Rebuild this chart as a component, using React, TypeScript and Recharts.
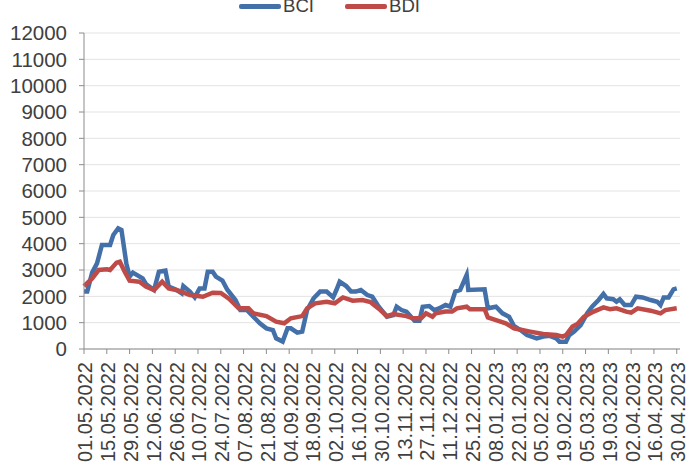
import { CartesianGrid, Legend, Line, LineChart, XAxis, YAxis } from "recharts";

// days counted from 01.05.2022
const bciDays = [
  0, 2, 5, 8, 11, 16, 18, 21, 23, 26, 28, 30, 36, 38, 43, 46, 50, 52, 57, 60,
  61, 65, 68, 71, 74, 76, 79, 81, 85, 88, 93, 96, 100, 104, 108, 112, 116, 118,
  122, 125, 127, 131, 134, 137, 141, 145, 149, 153, 155, 157, 161, 164, 167,
  170, 174, 177, 181, 186, 190, 192, 195, 198, 203, 206, 208, 212, 215, 218,
  222, 225, 228, 231, 235, 236, 246, 248, 253, 257, 261, 264, 268, 272, 278,
  282, 286, 290, 292, 296, 298, 301, 305, 309, 312, 316, 319, 321, 325, 327,
  329, 332, 336, 339, 343, 348, 352, 354, 356, 359, 362, 364,
];
const bciValues = [
  2180, 2180, 2900, 3250, 3950, 3950, 4330, 4580, 4520, 3250, 2750, 2900, 2680,
  2470, 2240, 2935, 2975, 2370, 2240, 2115, 2390, 2180, 1960, 2300, 2300, 2935,
  2935, 2750, 2600, 2250, 1860, 1480, 1480, 1225, 975, 785, 720, 405, 280, 785,
  785, 620, 660, 1480, 1925, 2180, 2180, 1960, 2240, 2555, 2390, 2180, 2180,
  2240, 2050, 1985, 1605, 1225, 1290, 1605, 1480, 1415, 1075, 1075, 1605, 1630,
  1480, 1540, 1670, 1605, 2180, 2240, 2810, 2240, 2265, 1545, 1605, 1355, 1225,
  880, 720, 530, 405, 470, 500, 405, 280, 280, 530, 660, 910, 1355, 1605, 1860,
  2090, 1925, 1890, 1795, 1890, 1670, 1670, 1985, 1960, 1860, 1795, 1670, 1960,
  1960, 2265, 2300,
];

const bdiDays = [
  0, 5, 9, 14, 16, 20, 22, 25, 28, 34, 38, 43, 48, 52, 58, 65, 73, 79, 84, 89,
  95, 101, 104, 112, 118, 123, 127, 134, 137, 142, 149, 154, 159, 165, 171, 176,
  182, 186, 190, 198, 202, 207, 210, 214, 216, 222, 226, 229, 235, 237, 246,
  248, 253, 259, 264, 274, 282, 290, 294, 296, 300, 303, 307, 313, 319, 323,
  327, 333, 336, 340, 348, 354, 357, 364,
];
const bdiValues = [
  2390, 2680, 3000, 3030, 3000, 3280, 3315, 2935, 2595, 2555, 2370, 2240, 2555,
  2300, 2215, 2050, 1985, 2140, 2130, 1910, 1545, 1545, 1355, 1250, 1040, 975,
  1165, 1250, 1545, 1735, 1795, 1735, 1960, 1835, 1860, 1780, 1480, 1250, 1330,
  1250, 1165, 1165, 1355, 1225, 1355, 1420, 1420, 1545, 1605, 1510, 1510, 1200,
  1100, 975, 785, 660, 570, 530, 470, 530, 850, 950, 1225, 1420, 1580, 1510,
  1545, 1420, 1380, 1545, 1455, 1355, 1480, 1545,
];

const tickDays = [
  0, 14, 28, 42, 56, 70, 84, 98, 112, 126, 140, 154, 168, 182, 196, 210, 224,
  238, 252, 266, 280, 294, 308, 322, 336, 350, 364,
];
const tickLabels = [
  "01.05.2022", "15.05.2022", "29.05.2022", "12.06.2022", "26.06.2022",
  "10.07.2022", "24.07.2022", "07.08.2022", "21.08.2022", "04.09.2022",
  "18.09.2022", "02.10.2022", "16.10.2022", "30.10.2022", "13.11.2022",
  "27.11.2022", "11.12.2022", "25.12.2022", "08.01.2023", "22.01.2023",
  "05.02.2023", "19.02.2023", "05.03.2023", "19.03.2023", "02.04.2023",
  "16.04.2023", "30.04.2023",
];
const yTicks = [0, 1000, 2000, 3000, 4000, 5000, 6000, 7000, 8000, 9000, 10000, 11000, 12000];

const series = [
  { name: "BCI", color: "#4470a9", data: bciDays.map((d, i) => ({ day: d, value: bciValues[i] })) },
  { name: "BDI", color: "#bf4b48", data: bdiDays.map((d, i) => ({ day: d, value: bdiValues[i] })) },
];

const FONT = "'Liberation Sans', Arial, sans-serif";
const TEXT = "#404040";

function DateTick({ x, y, payload }: any) {
  const idx = tickDays.indexOf(payload.value);
  return (
    <g transform={`translate(${x},${y})`}>
      <text
        transform="rotate(-90)"
        textAnchor="end"
        dy="0.42em"
        fill={TEXT}
        fontSize={20}
        fontFamily={FONT}
      >
        {tickLabels[idx]}
      </text>
    </g>
  );
}

function LegendBox() {
  return (
    <div style={{ display: "flex", justifyContent: "center", gap: 31, fontFamily: FONT, fontSize: 18.6, color: TEXT }}>
      {series.map((s) => (
        <div key={s.name} style={{ display: "flex", alignItems: "center" }}>
          <span style={{ display: "inline-block", width: 42, height: 5, borderRadius: 2, background: s.color, marginRight: 2 }} />
          {s.name}
        </div>
      ))}
    </div>
  );
}

export default function App() {
  return (
    <div style={{ position: "absolute", left: 0, top: 0, background: "#fff" }}>
      <LineChart width={691} height={473} margin={{ top: 33, right: 11, bottom: 0, left: 0 }}>
        <CartesianGrid vertical={false} stroke="#e3e3e3" />
        <XAxis
          type="number"
          dataKey="day"
          domain={[0, 366]}
          ticks={tickDays}
          interval={0}
          height={124}
          tick={<DateTick />}
          tickSize={5}
          tickMargin={8}
          stroke="#8c8c8c"
          allowDuplicatedCategory={false}
        />
        <YAxis
          domain={[0, 12000]}
          ticks={yTicks}
          interval={0}
          width={84}
          tickSize={5}
          tickMargin={12}
          stroke="#8c8c8c"
          tick={{ fill: TEXT, fontSize: 20.5, fontFamily: FONT }}
        />
        <Legend
          verticalAlign="middle"
          align="center"
          wrapperStyle={{ top: -5, left: -16, width: 691 }}
          content={<LegendBox />}
        />
        {series.map((s) => (
          <Line
            key={s.name}
            data={s.data}
            dataKey="value"
            name={s.name}
            stroke={s.color}
            strokeWidth={4.5}
            dot={false}
            type="linear"
            isAnimationActive={false}
          />
        ))}
      </LineChart>
    </div>
  );
}
